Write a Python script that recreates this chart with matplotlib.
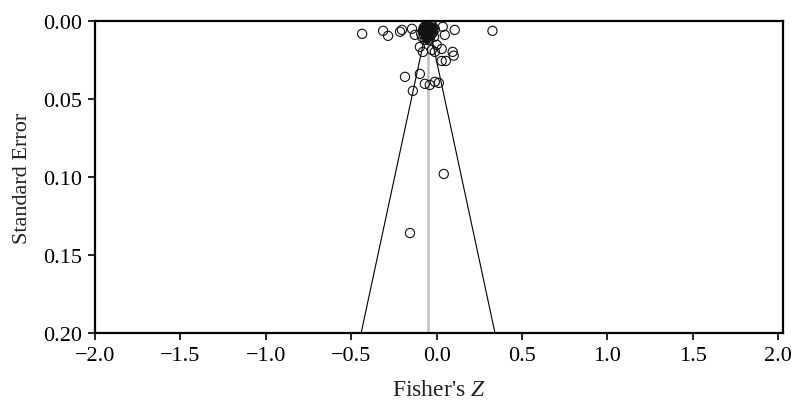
import numpy as np
import matplotlib
matplotlib.use('Agg')
from matplotlib import pyplot as plt

plt.rcParams['font.family'] = ['Liberation Serif', 'DejaVu Serif']
plt.rcParams['mathtext.fontset'] = 'custom'
plt.rcParams['mathtext.it'] = 'Liberation Serif:italic'
plt.rcParams['mathtext.rm'] = 'Liberation Serif'

# pooled effect (Fisher's Z) and funnel limits
mean_z = -0.05
se_max = 0.20

# studies: Fisher's Z and standard error
z_outer = [-0.436, -0.313, -0.284, -0.214, -0.203, -0.144, -0.127, 0.036, 0.048, 0.106,
           0.327, 0.094, 0.100, -0.098, -0.080, -0.028, 0.001, 0.030, -0.010, 0.030,
           0.054, -0.098, -0.185, -0.139, -0.069, -0.010, 0.013, -0.040, 0.042, -0.156]
se_outer = [0.0080, 0.0061, 0.0093, 0.0067, 0.0055, 0.0048, 0.0087, 0.0035, 0.0087, 0.0055,
            0.0061, 0.0196, 0.0220, 0.0164, 0.0196, 0.0183, 0.0151, 0.0177, 0.0196, 0.0254,
            0.0254, 0.0337, 0.0356, 0.0446, 0.0401, 0.0388, 0.0395, 0.0408, 0.0979, 0.1358]

# the dense cluster of large studies near the top
z_core = [-0.050, -0.060, -0.040, -0.070, -0.030, -0.055, -0.045, -0.065, -0.035, -0.080,
          -0.020, -0.050, -0.060, -0.040, -0.075, -0.025, -0.050, -0.090, -0.010, -0.055,
          -0.045, -0.070, -0.030, -0.060, -0.040, -0.050, -0.085, -0.015, -0.065, -0.035,
          -0.052, -0.058, -0.042, -0.048, -0.062, -0.038, -0.068, -0.032, -0.072, -0.028,
          -0.056, -0.044, -0.066, -0.034, -0.053, -0.047, -0.078, -0.022, -0.059, -0.041]
se_core = [0.0050, 0.0040, 0.0060, 0.0070, 0.0050, 0.0080, 0.0030, 0.0090, 0.0090, 0.0060,
           0.0070, 0.0100, 0.0110, 0.0110, 0.0040, 0.0030, 0.0065, 0.0080, 0.0050, 0.0020,
           0.0120, 0.0120, 0.0020, 0.0065, 0.0075, 0.0085, 0.0100, 0.0100, 0.0050, 0.0040,
           0.0045, 0.0055, 0.0035, 0.0075, 0.0085, 0.0070, 0.0045, 0.0060, 0.0060, 0.0080,
           0.0095, 0.0095, 0.0030, 0.0025, 0.0105, 0.0060, 0.0055, 0.0045, 0.0035, 0.0050]

z_all = np.array(z_outer + z_core)
se_all = np.array(se_outer + se_core)

fig = plt.figure(figsize=(7.94, 4.06), dpi=100)
ax = fig.add_axes([0.1196, 0.177, 0.867, 0.768])

# funnel: 95% limits around the pooled estimate
ax.plot([mean_z, mean_z - 1.96 * se_max], [0, se_max], color='black', lw=0.8)
ax.plot([mean_z, mean_z + 1.96 * se_max], [0, se_max], color='black', lw=0.8)
ax.plot([mean_z, mean_z], [0, se_max], color='#c0c0c0', lw=1.8)

ax.scatter(z_all, se_all, s=44, facecolors='none', edgecolors='#111111', linewidths=0.8, zorder=3)

ax.set_xlim(-2, 2.03)
ax.set_ylim(0.20, 0.0)
ax.set_xticks(np.arange(-2, 2.01, 0.5))
ax.set_yticks(np.arange(0, 0.201, 0.05))
ax.set_xticklabels(['\u22122.0', '\u22121.5', '\u22121.0', '\u22120.5', '0.0', '0.5', '1.0', '1.5', '2.0'])
ax.set_yticklabels(['0.00', '0.05', '0.10', '0.15', '0.20'])
ax.tick_params(direction='out', length=5, width=1.2, labelsize=16, pad=4)
for s in ax.spines.values():
    s.set_linewidth(1.6)

ax.set_ylabel('Standard Error', fontsize=16, color='#222222', labelpad=8)
ax.set_xlabel("Fisher's $\\mathit{Z}$", fontsize=17, color='#222222', labelpad=10)

fig.savefig('out.png', dpi=100)
